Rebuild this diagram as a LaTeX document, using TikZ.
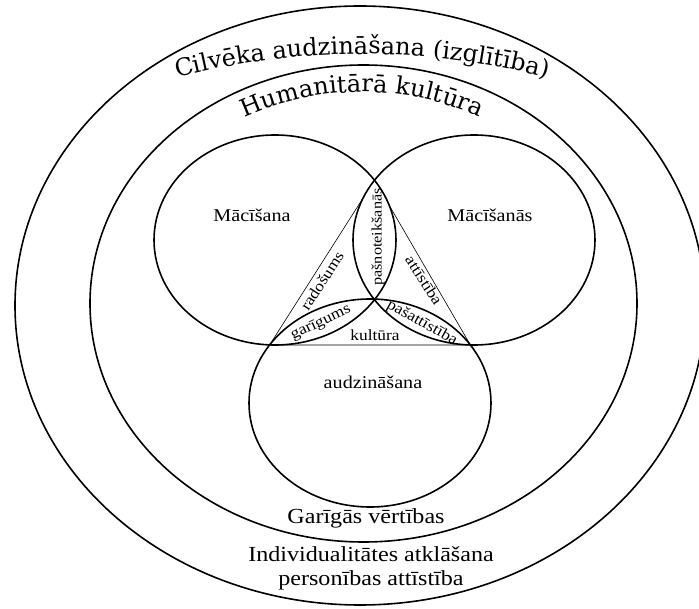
\documentclass[tikz,border=0pt]{standalone}
\usepackage{fontspec}
\setmainfont{Liberation Serif}[FakeStretch=1.12]
\newfontfamily\arcfont{DejaVu Serif}
\newcommand\cilvfont{\arcfont\fontsize{24}{26}\selectfont}
\usetikzlibrary{decorations.text}

\begin{document}
\begin{tikzpicture}[x=1pt,y=-1pt,
    ring/.style={line width=1.6pt},
    side/.style={line width=0.6pt},
    lbl/.style={font=\fontsize{15.5}{17}\selectfont,inner sep=1pt},
    big/.style={font=\fontsize{18}{20}\selectfont},
    low/.style={font=\fontsize{21.5}{24}\selectfont,align=center}]
    \useasboundingbox (0,0) rectangle (699,609);
    \def\rx{121}
    \def\ry{105}
    \coordinate (O) at (360,305.5);
    \coordinate (I) at (363.5,303.5);
    \coordinate (K_l) at (275,240);
    \coordinate (K_r) at (474,240);
    \coordinate (K_b) at (370,403);
    \coordinate (T_t) at (374.5,180);
    \coordinate (T_l) at (269.6,345);
    \coordinate (T_r) at (470.4,345);
    \draw[side] (T_l) -- (T_t) -- (T_r) -- cycle;
    \begin{scope}
      \clip (K_l) ellipse [x radius=\rx, y radius=\ry];
      \fill[white] (K_r) ellipse [x radius=\rx, y radius=\ry];
    \end{scope}
    \draw[ring] (O) ellipse [x radius=345, y radius=299.5];
    \draw[ring] (I) ellipse [x radius=273.5, y radius=238.5];
    \draw[ring] (K_l) ellipse [x radius=\rx, y radius=\ry];
    \draw[ring] (K_r) ellipse [x radius=\rx, y radius=\ry];
    \draw[ring] (K_b) ellipse [x radius=\rx, y radius=104];
    \path[decorate,decoration={text along path,text align=center,
      text={|\cilvfont|Cilvēka audzināšana (izglītība)}}]
      (362,786) ++(250:732) arc [start angle=250, end angle=290, radius=732];
    \path[decorate,decoration={text along path,text align=center,
      text={|\cilvfont|Humanitārā kultūra}}]
      (362,378) ++(235:286) arc [start angle=235, end angle=305, radius=286];
    \node[big] (M_l) at (252,215) {Mācīšana};
    \node[big] (M_r) at (490,215) {Mācīšanās};
    \node[big] (M_b) at (373,382) {audzināšana};
    \node[lbl,font=\fontsize{14.5}{16}\selectfont,rotate=90] (L_t) at (378,237) {pašnoteikšanās};
    \node[lbl,rotate=57] (L_l) at (322,281) {radošums};
    \node[lbl,rotate=-57] (L_r) at (424,280) {attīstība};
    \node[lbl,rotate=25] (L_gl) at (321,323) {garīgums};
    \node[lbl,rotate=-29] (L_gr) at (422,323) {pašattīstība};
    \node[lbl] (L_b) at (375,335) {kultūra};
    \node[low] (B_0) at (366,518) {Garīgās vērtības};
    \node[low] (B_1) at (371,568) {Individualitātes atklāšana\\personības attīstība};
  \end{tikzpicture}
\end{document}
